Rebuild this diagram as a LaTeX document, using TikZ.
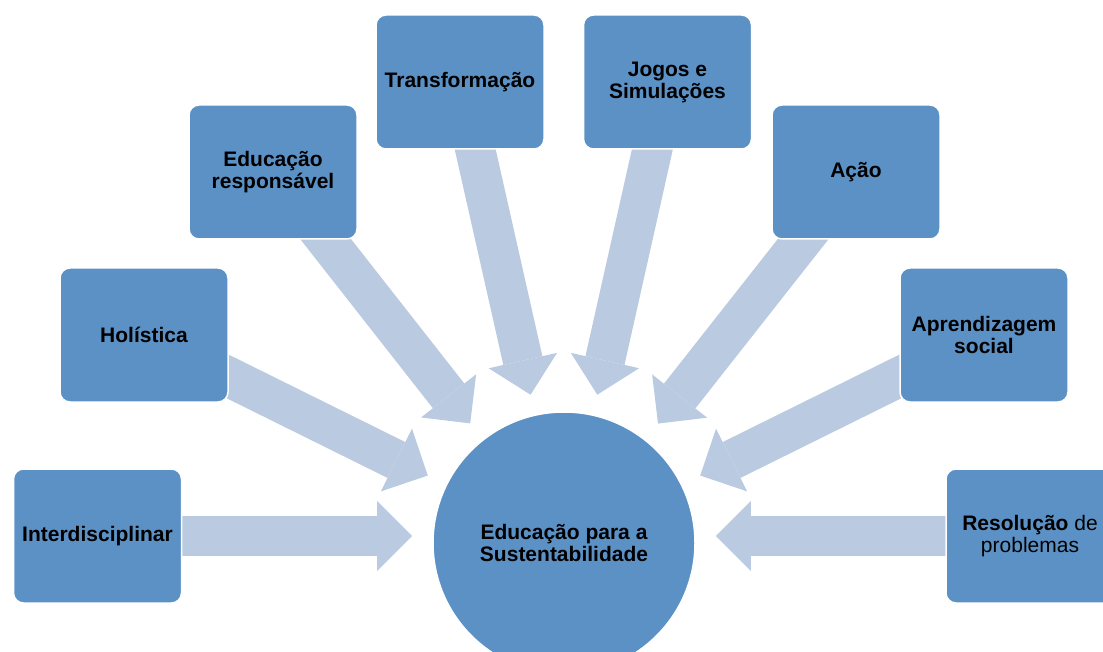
\documentclass[tikz,border=0pt]{standalone}
\usepackage{fontspec}
\setmainfont{Liberation Sans}
\usepackage{tikz}
\usetikzlibrary{calc,arrows.meta,backgrounds}
\definecolor{azul}{RGB}{92,145,198}
\definecolor{azulclaro}{RGB}{185,202,225}
\tikzset{
	caixa/.style={draw=white,line width=1.5pt,fill=azul,rounded corners=10pt,
		minimum width=168pt,minimum height=134pt,align=center,
		font=\fontsize{21}{22}\selectfont\bfseries},
	seta/.style={draw=azulclaro,line width=40pt,
		-{Triangle[length=35pt,width=70pt,line width=0pt]}},
}
\begin{document}
\begin{tikzpicture}[x=1pt,y=-1pt]
	\useasboundingbox (0,0) rectangle (1103,652);
	\clip (0,0) rectangle (1103,652);
	\node[circle,draw=white,line width=1.5pt,fill=azul,minimum size=262pt,align=center,
		font=\fontsize{21}{22}\selectfont\bfseries] (sust) at (564,543)
		{Educação para a\\Sustentabilidade}; %centro
	\node[caixa] (inter) at (97.5,536) {Interdisciplinar};
	\node[caixa] (holi) at (144,335) {Holística};
	\node[caixa] (educ) at (273,172) {Educação\\responsável};
	\node[caixa] (trans) at (460,82) {Transformação};
	\node[caixa] (jogos) at (667.5,82) {Jogos e\\Simulações};
	\node[caixa] (acao) at (856,172) {Ação};
	\node[caixa] (apren) at (984,335) {Aprendizagem\\social};
	\node[caixa] (resol) at (1030,536) {Resolução \mdseries de\\\mdseries problemas};
	\begin{scope}[on background layer] %setas
		\foreach \b in {holi,educ,trans,jogos,acao,apren}{
			\draw[seta] (\b.center) -- ($(sust.center)!152pt!(\b.center)$);
		}
		\foreach \b in {inter,resol}{ %horizontais
			\coordinate (p) at ($(sust.center)!152pt!(\b.center)$);
			\draw[seta] (\b.center) -- (\b.center -| p);
		}
	\end{scope}
\end{tikzpicture}
\end{document}
